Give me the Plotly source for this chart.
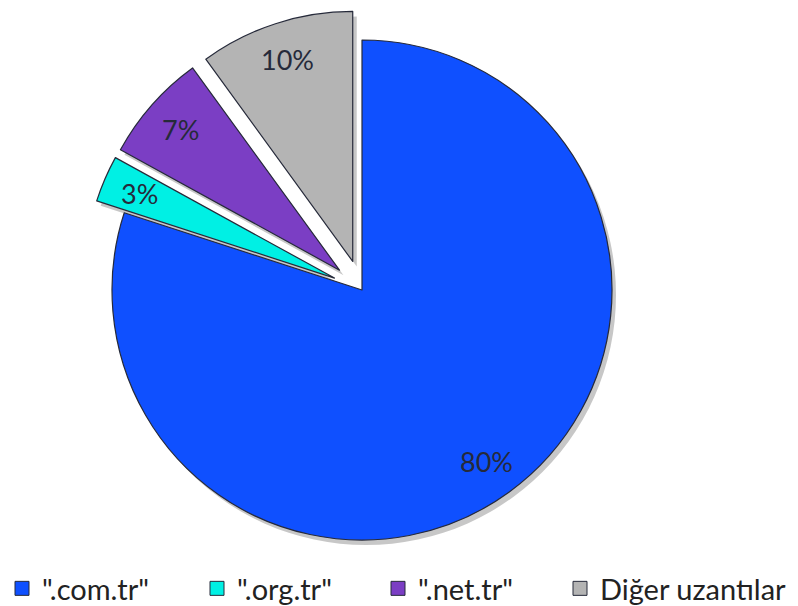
import math
import plotly.graph_objects as go

labels = ['".com.tr"', '".org.tr"', '".net.tr"', 'Diğer uzantılar']
values = [80, 3, 7, 10]
pulls = [0, 0.12, 0.12, 0.12]
colors = ["#0F50FF", "#00F0E4", "#7B3EC4", "#B4B4B4"]
legend_widths = [150, 136, 137, 185]

# the page body keeps the browser's default 8px margin
OFF = 8
W, H = 790, 604
cx, cy, r = 362 - OFF, 290 - OFF, 250     # pie centre / radius in figure pixels
half = r * (1 + max(pulls))


def dom(ox, oy):
    x0 = cx + ox
    y0 = cy + oy
    return dict(x=[(x0 - half) / W, (x0 + half) / W],
                y=[1 - (y0 + half) / H, 1 - (y0 - half) / H])


fig = go.Figure()

# soft drop shadow
fig.add_trace(go.Pie(
    labels=["s%d" % i for i in range(len(values))],
    values=values, sort=False, direction="clockwise", rotation=0, pull=pulls,
    marker=dict(colors=["rgba(0,0,0,0.22)"] * len(values), line=dict(width=0)),
    textinfo="none", hoverinfo="skip", showlegend=False, domain=dom(4, 5),
))

fig.add_trace(go.Pie(
    labels=labels,
    values=values,
    sort=False,
    direction="clockwise",
    rotation=0,
    pull=pulls,
    marker=dict(colors=colors, line=dict(color="#262a3a", width=1.2)),
    textinfo="none",
    domain=dom(0, 0),
    showlegend=False,
))

# legend entries (one per category, so each can have its own width)
for lab, col, lw in zip(labels, colors, legend_widths):
    fig.add_trace(go.Scatter(
        x=[None], y=[None], mode="markers", name=lab,
        marker=dict(symbol="square", size=14, color=col,
                    line=dict(color="#262a3a", width=1)),
        legendwidth=lw, showlegend=True, hoverinfo="skip",
    ))

# percentage labels placed along each slice bisector
total = sum(values)
cum = 0
for v, p in zip(values, pulls):
    mid = math.radians((cum + v / 2) / total * 360)
    cum += v
    px = cx + (p + 0.85) * r * math.sin(mid)
    py = cy - (p + 0.85) * r * math.cos(mid)
    fig.add_annotation(x=px / W, y=1 - py / H, xref="paper", yref="paper",
                       xanchor="center", yanchor="middle",
                       text="%d%%" % round(v / total * 100), showarrow=False,
                       font=dict(family="Lato", size=27, color="#262a3a"))

fig.update_layout(
    width=W, height=H,
    margin=dict(l=0, r=0, t=0, b=0, autoexpand=False),
    paper_bgcolor="white",
    plot_bgcolor="white",
    xaxis=dict(visible=False),
    yaxis=dict(visible=False),
    legend=dict(orientation="h", x=-6 / W, y=-2 / H, xanchor="left", yanchor="bottom",
                bgcolor="rgba(0,0,0,0)",
                font=dict(family="Lato", size=29, color="#222222"),
                traceorder="normal", itemwidth=30),
)

fig.write_html("out.html")
